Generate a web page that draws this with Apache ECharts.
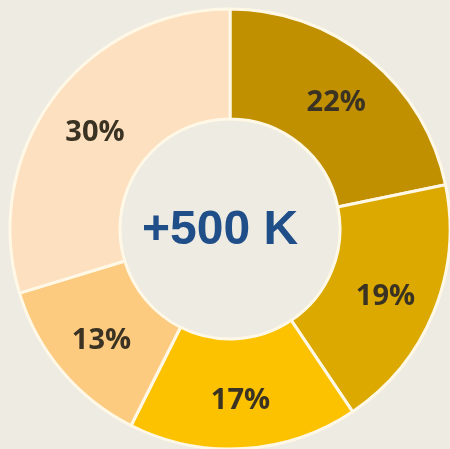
<!DOCTYPE html>
<html>
<head>
<meta charset="utf-8">
<script src="https://cdn.jsdelivr.net/npm/echarts@6/dist/echarts.min.js"></script>
<style>
  html, body { margin: 0; padding: 0; background: #eeebe2; }
  #chart { width: 450px; height: 449px; }
</style>
</head>
<body>
<div id="chart"></div>
<script>
// slice values (percent), clockwise from 12 o'clock
const categories = ['A', 'B', 'C', 'D', 'E'];
const values = [22, 19, 17, 13, 30];
const colors = ['#c09000', '#dba900', '#fcc200', '#fccb80', '#fde0bf'];
const centerText = '+500 K';

const myChart = echarts.init(document.getElementById('chart'));

const option = {
  backgroundColor: '#eeebe2',
  animation: false,
  graphic: [
    {
      type: 'text',
      left: 142,
      top: 207,
      style: {
        text: centerText,
        fill: '#1f4e89',
        font: 'bold 48px "Liberation Sans", Arial, sans-serif'
      }
    }
  ],
  series: [
    {
      type: 'pie',
      center: [230, 229],
      radius: [110, 220],
      startAngle: 90,
      clockwise: true,
      itemStyle: {
        borderColor: '#fff8e6',
        borderWidth: 3
      },
      label: {
        show: true,
        position: 'inside',
        formatter: '{c}%',
        color: '#3a3222',
        fontSize: 29,
        fontWeight: 'bold',
        fontFamily: '"Open Sans", sans-serif',
        offset: [0, 4]
      },
      labelLine: { show: false },
      data: categories.map((name, i) => ({
        name: name,
        value: values[i],
        itemStyle: { color: colors[i] }
      }))
    }
  ]
};

myChart.setOption(option);
</script>
</body>
</html>
